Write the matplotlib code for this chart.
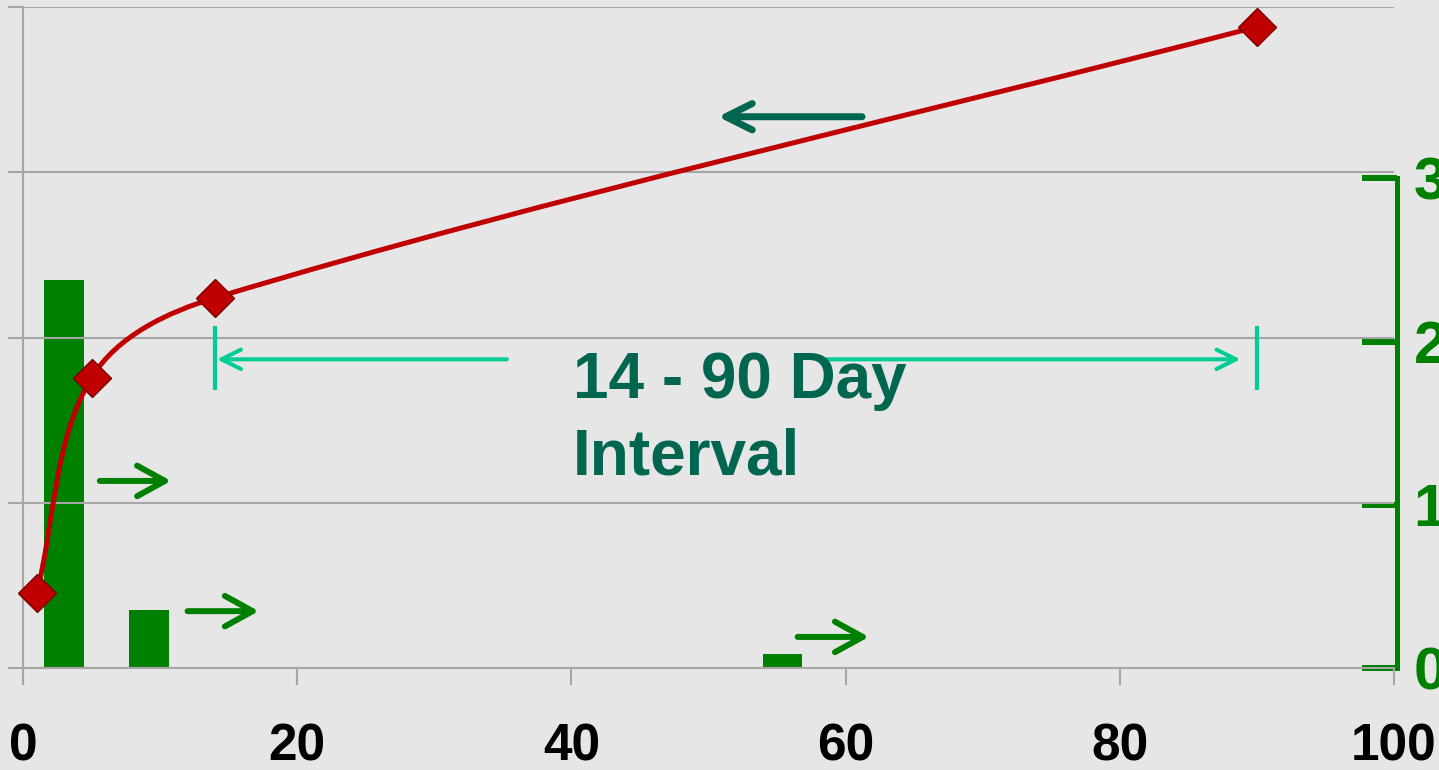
import numpy as np
import matplotlib
matplotlib.use("Agg")
import matplotlib.pyplot as plt
from matplotlib.path import Path
from matplotlib.patches import PathPatch

# ========== data ==========
days = [1, 5, 14, 90]
cum_pct = [11.3, 43.9, 56.0, 97.0]

bar_x = [3.0, 9.2, 55.4]
bar_h = [2.38, 0.355, 0.086]
bar_w = 2.9

x_ticks = [0, 20, 40, 60, 80, 100]
y_ticks = [0, 25, 50, 75, 100]
right_ticks = [0, 1, 2, 3]

BG = "#e6e6e6"
GRID = "#a6a6a6"
RED = "#c00000"
GREEN = "#008000"
DARK = "#00664f"
TEAL = "#00cc96"

W, H = 1439, 770
fig = plt.figure(figsize=(W / 100, H / 100), dpi=100, facecolor=BG)

# axes box in pixels: x 23..1394, y 7..668
ax_rect = [23 / W, (H - 668) / H, (1394 - 23) / W, (668 - 7) / H]
ax2 = fig.add_axes(ax_rect)   # bars + green bracket axis
ax = fig.add_axes(ax_rect)    # red curve, grid, annotations (on top)
ax.set_zorder(ax2.get_zorder() + 1)
ax.patch.set_visible(False)
ax2.patch.set_visible(False)

ax.set_xlim(0, 100)
ax.set_ylim(0, 100)
ax2.set_xlim(0, 100)
ax2.set_ylim(0, 4.05)

# ---------- bars ----------
ax2.bar(bar_x, bar_h, width=bar_w, color=GREEN, linewidth=0)

# ---------- main axis styling ----------
for s in ["top", "right"]:
    ax.spines[s].set_visible(False)
for s in ["left", "bottom"]:
    ax.spines[s].set_color(GRID)
    ax.spines[s].set_linewidth(1.5)
ax.set_xticks(x_ticks)
ax.set_yticks(y_ticks)
ax.set_yticklabels([])
ax.grid(axis="y", color=GRID, linewidth=1.5)
ax.tick_params(axis="y", direction="out", length=11, width=1.5, color=GRID)
ax.tick_params(axis="x", direction="out", length=12, width=1.5, color=GRID,
               pad=27, labelsize=37, labelcolor="black")
for lab in ax.get_xticklabels():
    lab.set_fontfamily("Liberation Sans")
    lab.set_fontweight("bold")

# ---------- green bracket (right axis) ----------
for s in ["top", "left", "bottom"]:
    ax2.spines[s].set_visible(False)
ax2.spines["right"].set_color(GREEN)
ax2.spines["right"].set_linewidth(3.6)
ax2.spines["right"].set_position(("outward", 2))
ax2.spines["right"].set_bounds(0, 3)
ax2.set_xticks([])
ax2.yaxis.tick_right()
ax2.set_yticks(right_ticks)
ax2.tick_params(axis="y", direction="in", length=25, width=4.3, color=GREEN,
                pad=12, labelsize=43, labelcolor=GREEN)
for lab in ax2.get_yticklabels():
    lab.set_fontfamily("Liberation Sans")
    lab.set_fontweight("bold")

# ---------- smoothed red curve (Bezier in display space) ----------
pts = ax.transData.transform(np.column_stack([days, cum_pct]))
n = len(pts)


def unit(v):
    return v / np.hypot(*v)


verts = [pts[0]]
codes = [Path.MOVETO]
for i in range(n - 1):
    p0 = pts[max(i - 1, 0)]
    p1 = pts[i]
    p2 = pts[i + 1]
    p3 = pts[min(i + 2, n - 1)]
    seg = np.hypot(*(p2 - p1)) / 3.0
    c1 = p1 + unit(p2 - p0) * seg
    c2 = p2 - unit(p3 - p1) * seg
    verts += [c1, c2, p2]
    codes += [Path.CURVE4] * 3
verts = ax.transData.inverted().transform(np.array(verts))
curve = PathPatch(Path(verts, codes), fill=False, edgecolor=RED,
                  linewidth=3.6, capstyle="round", zorder=3)
ax.add_patch(curve)
ax.plot(days, cum_pct, linestyle="none", marker="D", markersize=19.5,
        markerfacecolor=RED, markeredgecolor="#7a0000", markeredgewidth=1,
        zorder=4, clip_on=False)


# ---------- arrows ----------
def arrow(tail, head, color, lw, hl, hw):
    ax.annotate("", xy=head, xytext=tail,
                arrowprops=dict(arrowstyle=f"->,head_length={hl},head_width={hw}",
                                color=color, lw=lw, shrinkA=0, shrinkB=0,
                                mutation_scale=1, capstyle="round",
                                joinstyle="round"))


arrow((61.2, 83.4), (50.7, 83.4), DARK, 5.0, 19, 9.5)
arrow((5.6, 28.3), (10.8, 28.3), GREEN, 4.3, 20, 11)
arrow((12.0, 8.6), (17.2, 8.6), GREEN, 4.3, 20, 11)
arrow((56.5, 4.7), (61.7, 4.7), GREEN, 4.3, 20, 11)

# 14 - 90 day interval markers
iv_y = 46.7
for d in (days[2], days[3]):
    ax.plot([d, d], [42.1, 51.7], color=TEAL, linewidth=3, solid_capstyle="butt")
arrow((35.3, iv_y), (days[2] + 0.15, iv_y), TEAL, 2.9, 14, 7)
arrow((58.6, iv_y), (days[3] - 1.2, iv_y), TEAL, 2.9, 14, 7)

txt_kw = dict(color=DARK, fontsize=46, fontweight="bold",
              fontfamily="Liberation Sans", ha="left", va="baseline")
ax.text(40.1, 40.8, "14 - 90 Day", **txt_kw)
ax.text(40.1, 29.3, "Interval", **txt_kw)

fig.savefig("out.png", dpi=100, facecolor=BG)
